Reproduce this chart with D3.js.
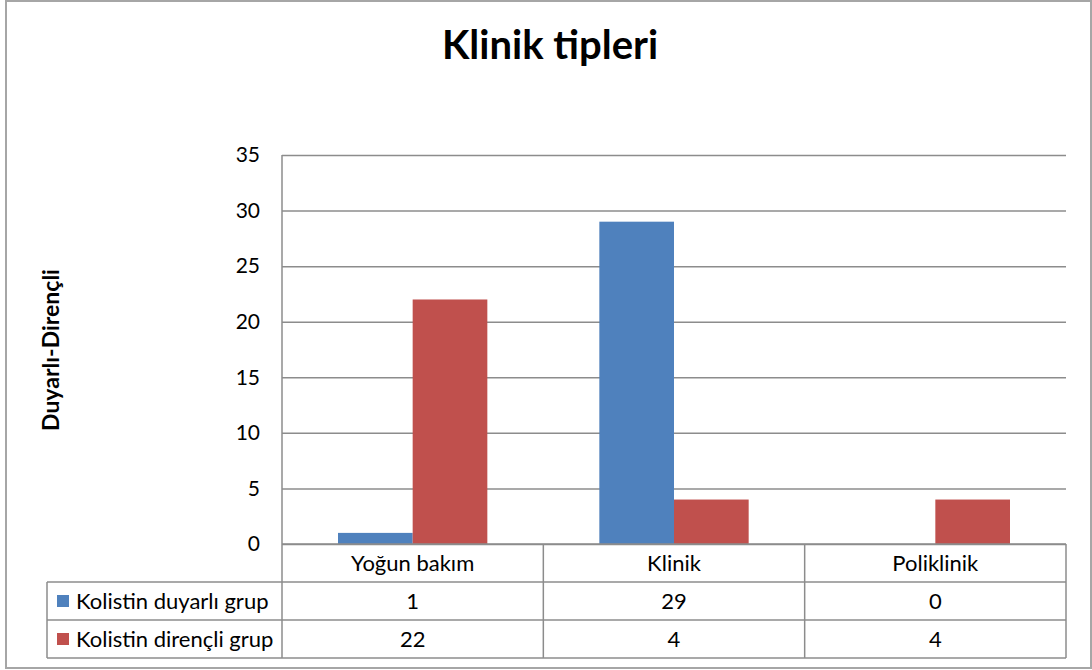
<!DOCTYPE html>
<html>
<head>
<meta charset="utf-8">
<script src="https://cdn.jsdelivr.net/npm/d3@7/dist/d3.min.js"></script>
<style>
  html, body { margin: 0; padding: 0; background: #fff; }
  svg { display: block; }
  text { font-family: Lato, "Open Sans", sans-serif; fill: #000; }
</style>
</head>
<body>
<svg id="chart" width="1092" height="670"></svg>
<script>
// Chart data
const categories = ["Yoğun bakım", "Klinik", "Poliklinik"];
const seriesNames = ["Kolistin duyarlı grup", "Kolistin dirençli grup"];
const duyarliValues = [1, 29, 0];
const direncliValues = [22, 4, 4];
const seriesColors = ["#4f81bd", "#c0504d"];
const yTicks = [0, 5, 10, 15, 20, 25, 30, 35];
const chartTitle = "Klinik tipleri";
const yAxisTitle = "Duyarlı-Dirençli";

const series = [
  { name: seriesNames[0], values: duyarliValues, color: seriesColors[0] },
  { name: seriesNames[1], values: direncliValues, color: seriesColors[1] }
];

const svg = d3.select("#chart");
const plot = { left: 282, right: 1066, top: 155, bottom: 544 };
const tableLeft = 47;
const rowH = 38;
const gridColor = "#8c8c8c";
const tableFont = 22;

// Outer chart border
svg.append("rect")
  .attr("x", 6).attr("y", 1)
  .attr("width", 1085).attr("height", 667)
  .attr("fill", "#fff")
  .attr("stroke", "#a6a6a6").attr("stroke-width", 2);

// Title
svg.append("text")
  .attr("x", 550).attr("y", 59)
  .attr("text-anchor", "middle")
  .attr("font-size", 40).attr("font-weight", 700)
  .text(chartTitle);

// Scales
const x = d3.scaleBand().domain(categories).range([plot.left, plot.right]);
const xs = d3.scaleBand().domain(seriesNames)
  .range([0, x.bandwidth()]).paddingInner(0).paddingOuter(0.75);
const y = d3.scaleLinear().domain([0, 35]).range([plot.bottom, plot.top]);

// Gridlines and value axis labels
const yAxis = d3.axisLeft(y).tickValues(yTicks).tickSize(-(plot.right - plot.left)).tickPadding(22);
const gy = svg.append("g").attr("transform", `translate(${plot.left},0)`).call(yAxis);
gy.select(".domain").remove();
gy.selectAll(".tick line").attr("stroke", gridColor).attr("stroke-width", 1.5);
gy.selectAll(".tick text")
  .attr("font-size", 21).attr("font-family", "Lato, 'Open Sans', sans-serif")
  .attr("fill", "#000");

// Y axis title
svg.append("text")
  .attr("transform", `translate(59,350) rotate(-90)`)
  .attr("text-anchor", "middle")
  .attr("font-size", 23).attr("font-weight", 700)
  .text(yAxisTitle);

// Bars
series.forEach(s => {
  svg.append("g").selectAll("rect")
    .data(categories.map((c, i) => ({ c, v: s.values[i] })))
    .join("rect")
    .attr("x", d => x(d.c) + xs(s.name))
    .attr("width", xs.bandwidth())
    .attr("y", d => y(d.v))
    .attr("height", d => y(0) - y(d.v))
    .attr("fill", s.color);
});

// Data table
const t = svg.append("g").attr("stroke", gridColor).attr("stroke-width", 1.5).attr("fill", "none");
const rowsY = [plot.bottom, plot.bottom + rowH, plot.bottom + 2 * rowH, plot.bottom + 3 * rowH];
// axis line (top of header row)
t.append("line").attr("x1", plot.left).attr("x2", plot.right).attr("y1", rowsY[0]).attr("y2", rowsY[0]);
// horizontal row lines
[1, 2, 3].forEach(i => {
  t.append("line").attr("x1", tableLeft).attr("x2", plot.right).attr("y1", rowsY[i]).attr("y2", rowsY[i]);
});
// vertical lines
t.append("line").attr("x1", plot.left).attr("x2", plot.left).attr("y1", plot.top).attr("y2", rowsY[3]);
t.append("line").attr("x1", tableLeft).attr("x2", tableLeft).attr("y1", rowsY[1]).attr("y2", rowsY[3]);
categories.forEach(c => {
  const xr = x(c) + x.bandwidth();
  t.append("line").attr("x1", xr).attr("x2", xr).attr("y1", rowsY[0]).attr("y2", rowsY[3]);
});

// Category header labels
svg.append("g").selectAll("text")
  .data(categories).join("text")
  .attr("x", d => x(d) + x.bandwidth() / 2)
  .attr("y", rowsY[0] + rowH / 2 + 8)
  .attr("text-anchor", "middle")
  .attr("font-size", tableFont)
  .text(d => d);

// Series rows: legend key, name, values
series.forEach((s, si) => {
  const ry = rowsY[si + 1];
  const cy = ry + rowH / 2;
  svg.append("rect")
    .attr("x", 57).attr("y", cy - 6)
    .attr("width", 12).attr("height", 12)
    .attr("fill", s.color);
  svg.append("text")
    .attr("x", 76).attr("y", cy + 8)
    .attr("font-size", tableFont)
    .text(s.name);
  svg.append("g").selectAll("text")
    .data(categories.map((c, i) => ({ c, v: s.values[i] })))
    .join("text")
    .attr("x", d => x(d.c) + x.bandwidth() / 2)
    .attr("y", cy + 8)
    .attr("text-anchor", "middle")
    .attr("font-size", tableFont)
    .text(d => d.v);
});
</script>
</body>
</html>
